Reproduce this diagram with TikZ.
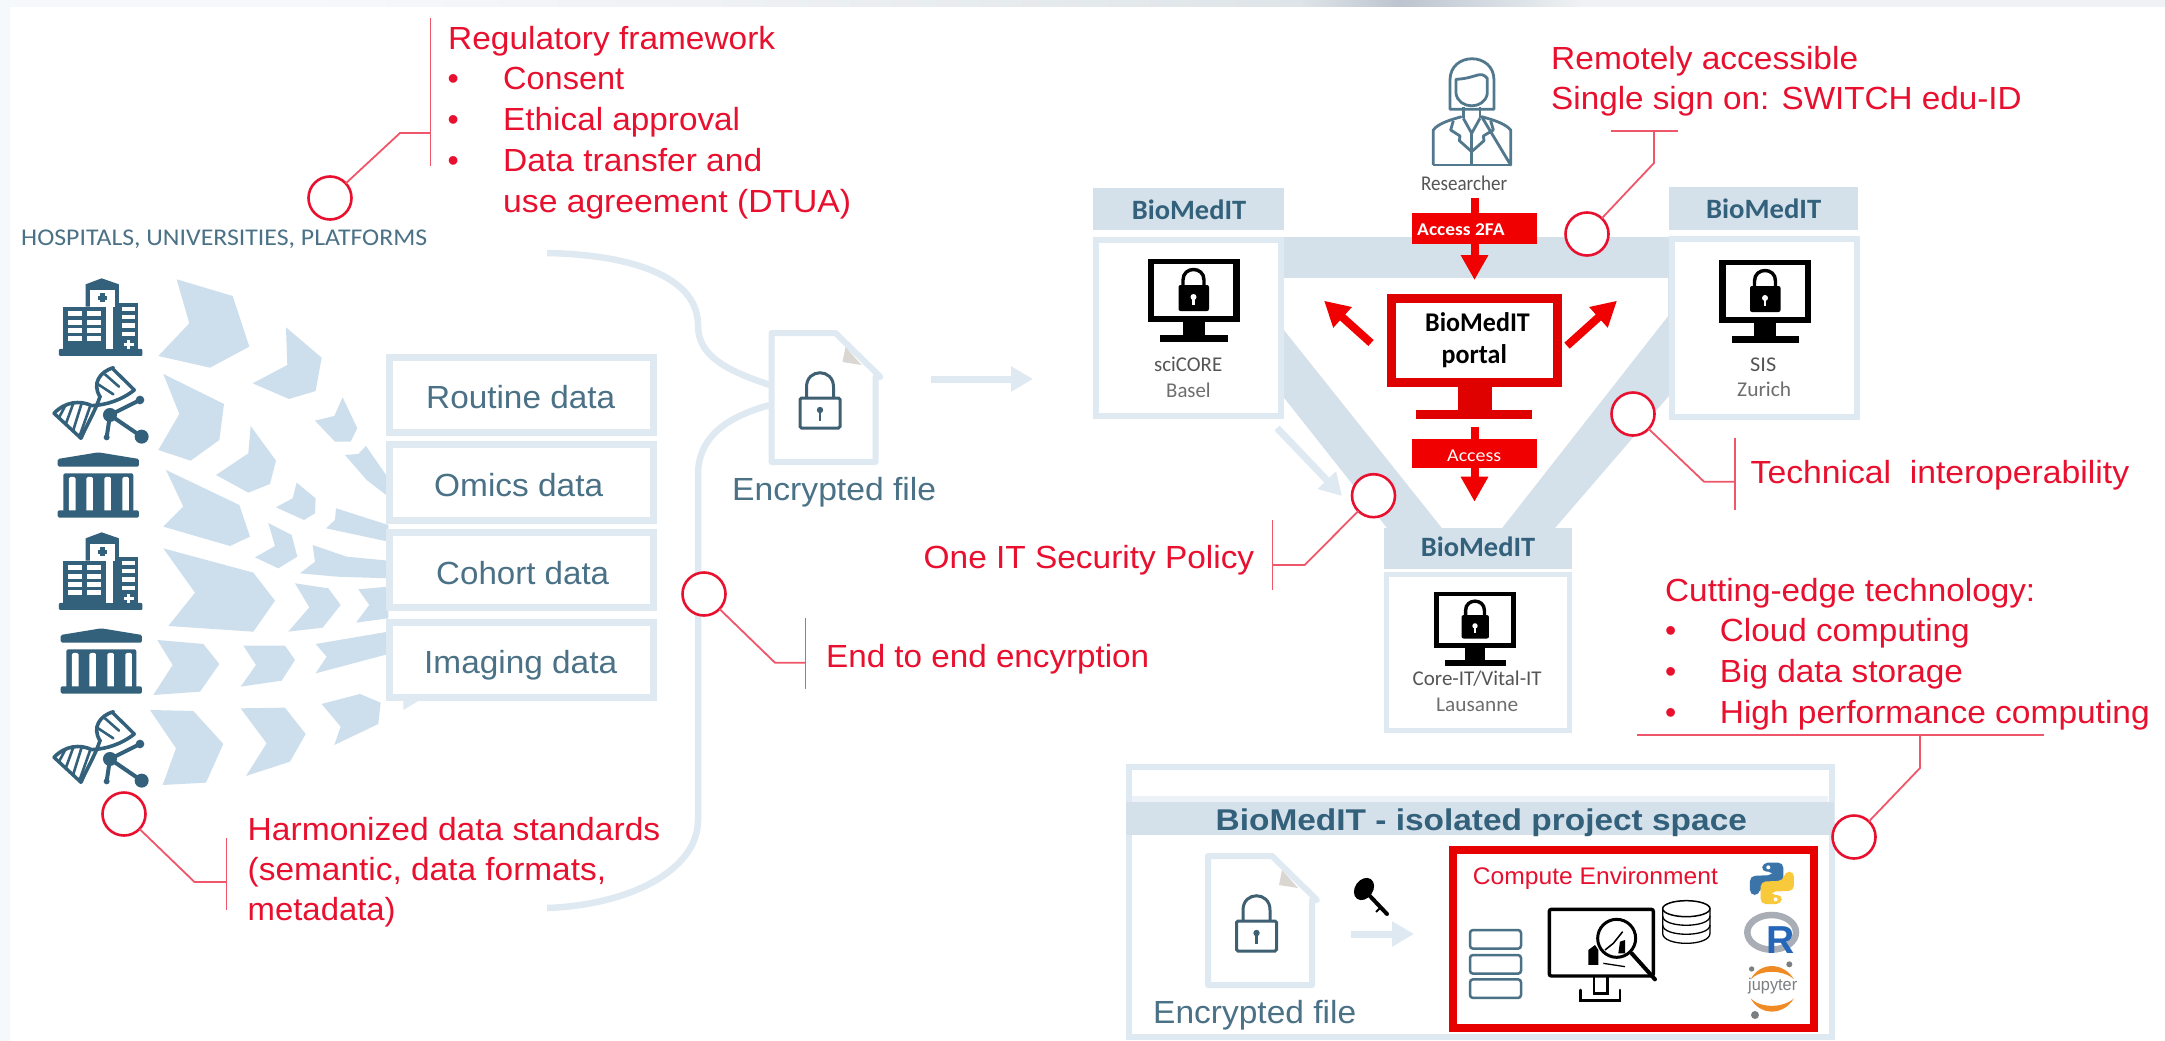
\documentclass[tikz,border=0pt]{standalone}
\usepackage{fontspec}
\usepackage{graphicx}
\setmainfont{Liberation Sans}
\newfontfamily\carl{Carlito}
\usetikzlibrary{arrows.meta}
\definecolor{redt}{HTML}{E8102E}
\definecolor{leadc}{HTML}{F0566A}
\definecolor{teal}{HTML}{33607A}
\definecolor{tealt}{HTML}{4A7186}
\definecolor{chev}{HTML}{CDDFEC}
\definecolor{bandc}{HTML}{D4E0EA}
\definecolor{lightb}{HTML}{DFE9F2}
\definecolor{pred}{HTML}{F00000}
\definecolor{gtxt}{HTML}{555555}
\definecolor{HTMLgray}{HTML}{DAD6D2}
\definecolor{EdgeA}{HTML}{EEF2F4}
\definecolor{EdgeB}{HTML}{DFE4E8}
\definecolor{EdgeC}{HTML}{BDC4CF}
\definecolor{EdgeL}{HTML}{F6F9FB}
\definecolor{PyBlue}{HTML}{3B74A8}
\definecolor{PyYellow}{HTML}{F8C93A}
\definecolor{RingG}{HTML}{A9ADB5}
\definecolor{JupO}{HTML}{F08A24}
\definecolor{JupG}{HTML}{7C7F82}
\definecolor{RBlue}{HTML}{2566B8}
\newcommand{\fitw}[2]{\resizebox{#1pt}{\height}{#2}}
\tikzset{
 redtxt/.style={anchor=base west,inner sep=0pt,text=redt,font=\fontsize{32}{38}\selectfont},
 tealtxt/.style={anchor=base west,inner sep=0pt,text=tealt,font=\fontsize{32}{38}\selectfont},
 hdrtxt/.style={anchor=base west,inner sep=0pt,text=teal,font=\carl\bfseries\fontsize{28}{32}\selectfont},
 gray1/.style={anchor=base west,inner sep=0pt,text=gtxt,font=\carl\fontsize{21}{25}\selectfont},
 whitetxt/.style={anchor=base west,inner sep=0pt,text=white,font=\carl\bfseries\fontsize{18}{22}\selectfont},
 portaltxt/.style={anchor=base west,inner sep=0pt,text=black,font=\carl\bfseries\fontsize{27}{32}\selectfont},
 ring/.style={circle,draw=redt,line width=2.6pt,fill=white,minimum size=43pt,inner sep=0pt,outer sep=0pt},
 leader/.style={draw=leadc,line width=1.8pt},
 chevron/.style={fill=chev},
 databox/.style={rectangle,draw=lightb,fill=white,line width=7pt,inner sep=0pt,outer sep=0pt},
 hdrbox/.style={rectangle,fill=bandc,inner sep=0pt,outer sep=0pt},
 accbox/.style={rectangle,fill=pred,inner sep=0pt,outer sep=0pt,minimum width=125.5pt},
 lightarr/.style={draw=lightb,line width=7pt,-{Triangle[length=22pt,width=24pt]}},
 redarr/.style={draw=pred,line width=8pt,-{Triangle[length=25pt,width=26pt]}},
 hospital/.pic={\begin{scope}[x=.3333pt,y=-.3333pt]
   \fill[teal,rounded corners=1pt] (42,222) rectangle (292,243);
   \fill[teal] (122,28)--(170,10)--(222,28)--(222,95)--(122,95)--cycle;
   \fill[teal] (55,95) rectangle (182,222);
   \fill[teal] (203,85) rectangle (280,222);
   \fill[white] (135,45) rectangle (210,95);
   \fill[teal] (165,55) rectangle (180,82);\fill[teal] (158,62) rectangle (187,75);
   \fill[white] (182,95) rectangle (203,222);
   \foreach \yy in {108,135,160,183}{\fill[white] (70,\yy) rectangle (112,\yy+14);\fill[white] (125,\yy) rectangle (167,\yy+14);}
   \foreach \yy in {95,120,145,170}{\fill[white] (230,\yy) rectangle (270,\yy+13);}
   \fill[white] (245,196) rectangle (256,222);\fill[white] (236,203) rectangle (266,214);
 \end{scope}},
 dnaicon/.pic={\begin{scope}[x=.3333pt,y=-.3333pt,line cap=round]
   \draw[teal,line width=3.6pt] (205,278) .. controls (165,290) and (140,325) .. (165,365) .. controls (150,410) and (125,450) .. (108,490);
   \draw[teal,line width=3.6pt] (27,415) .. controls (60,380) and (105,375) .. (140,392) .. controls (185,390) and (230,375) .. (268,345);
   \draw[teal,line width=3.4pt] (205,283) -- (268,345);
   \draw[teal,line width=3.4pt] (27,415) -- (108,490);
   \foreach \a/\b/\c/\d in {180/298/222/335, 155/325/205/358, 62/390/42/428, 85/385/62/448, 110/385/85/465, 135/395/105/480}{\draw[teal,line width=2.6pt] (\a,\b)--(\c,\d);}
   \draw[teal,line width=4pt] (195,420)--(285,375) (195,420)--(290,485) (195,420)--(185,487);
   \fill[teal] (195,420) circle[radius=21];\fill[teal] (285,375) circle[radius=13];
   \fill[teal] (290,485) circle[radius=21];\fill[teal] (185,487) circle[radius=9];
 \end{scope}},
 bankicon/.pic={\begin{scope}[x=.3333pt,y=-.3333pt]
   \fill[teal,rounded corners=1.5pt] (38,552)--(160,532)--(282,552)--(282,575)--(38,575)--cycle;
   \fill[teal,rounded corners=2pt] (55,595) rectangle (265,712);
   \foreach \xx in {72,124,178,232}{\fill[white,rounded corners=1.5pt] (\xx,606) rectangle (\xx+20,712);}
   \fill[teal,rounded corners=1.5pt] (38,706) rectangle (282,728);
 \end{scope}},
 docfile/.pic={
   \draw[lightb,fill=white,line width=6pt,line join=round] (3,3)--(67,3)--(112,47)--(107,47)--(107,132)--(3,132)--cycle;
   \fill[HTMLgray] (77,17)--(93,35)--(74,32)--cycle;
   \draw[tealt!85!black,line width=3pt,fill=white,rounded corners=1.5pt] (31.5,68) rectangle (71.5,98);
   \draw[tealt!85!black,line width=3pt] (38,68)--(38,57) .. controls (38,38) and (65,38) .. (65,57)--(65,68);
   \fill[tealt!85!black] (51.5,80) circle[radius=3.2];
   \fill[tealt!85!black] (50.3,80) rectangle (52.7,91);
 },
 lockmon/.pic={
   \fill[black] (-46,0) rectangle (46,63);
   \fill[white] (-39.5,5) rectangle (39.5,57);
   \fill[black] (-11,63) rectangle (11,76);
   \fill[black] (-33.5,76) rectangle (34,83);
   \fill[black,rounded corners=2pt] (-15,26) rectangle (15.5,52);
   \draw[black,line width=3.4pt] (-10.5,26)--(-10.5,21) .. controls (-10.5,7) and (10.5,7) .. (10.5,21)--(10.5,26);
   \fill[white] (0,38) circle[radius=3];\fill[white] (-1.3,38) rectangle (1.3,46);
 }
}
\begin{document}
\begin{tikzpicture}[x=1pt,y=-1pt]
\useasboundingbox (0,0) rectangle (2165,1041);
% background edges
\fill[white] (0,0) rectangle (2165,1041);
\shade[left color=EdgeL,right color=EdgeA] (300,0) rectangle (700,7);
\shade[left color=EdgeA,right color=EdgeB] (700,0) rectangle (1300,7);
\shade[left color=EdgeB,right color=EdgeC] (1300,0) rectangle (1400,7);
\shade[left color=EdgeC,right color=EdgeA] (1400,0) rectangle (1580,7);
\fill[EdgeA] (1580,0) rectangle (2165,7);
\fill[EdgeL] (0,0) rectangle (300,7);
\fill[EdgeL] (0,0) rectangle (10,1041);

% chevrons, upper
\begin{scope}[shift={(150,270)},x=.3333pt,y=-.3333pt]
\fill[chevron] (80,28)--(248,78)--(298,230)--(180,293)--(25,258)--(118,160)--cycle;
\fill[chevron] (408,172)--(515,263)--(497,363)--(417,387)--(308,340)--(412,285)--cycle;
\fill[chevron] (40,312)--(222,402)--(208,510)--(122,572)--(25,540)--(88,432)--cycle;
\fill[chevron] (302,468)--(378,572)--(360,642)--(295,668)--(198,615)--(295,550)--cycle;
\fill[chevron] (578,382)--(622,475)--(602,515)--(555,515)--(495,452)--(553,438)--cycle;
\fill[chevron] (648,528)--(715,625)--(715,680)--(650,630)--(585,555)--(625,552)--cycle;
\fill[chevron] (48,600)--(268,705)--(300,800)--(240,828)--(40,770)--(100,710)--cycle;
\fill[chevron] (440,638)--(497,685)--(495,730)--(462,750)--(378,712)--(428,685)--cycle;
\fill[chevron] (558,715)--(715,765)--(715,815)--(528,775)--(555,750)--cycle;
\end{scope}
% chevrons, lower
\begin{scope}[shift={(150,530)},x=.3333pt,y=-.3333pt]
\fill[chevron] (355,-21)--(425,15)--(442,80)--(385,115)--(315,82)--(375,48)--cycle;
\fill[chevron] (488,45)--(590,80)--(715,92)--(715,145)--(560,140)--(450,130)--(495,95)--cycle;
\fill[chevron] (40,55)--(310,128)--(375,212)--(310,305)--(55,288)--(135,188)--cycle;
\fill[chevron] (435,160)--(535,175)--(572,225)--(518,293)--(415,305)--(478,232)--cycle;
\fill[chevron] (625,178)--(715,170)--(715,265)--(618,278)--(658,225)--cycle;
\fill[chevron] (22,330)--(160,342)--(208,402)--(150,485)--(10,495)--(68,405)--cycle;
\fill[chevron] (280,347)--(405,347)--(435,390)--(395,452)--(272,470)--(318,405)--cycle;
\fill[chevron] (497,342)--(715,305)--(715,372)--(497,430)--(530,380)--cycle;
\fill[chevron] (0,540)--(130,543)--(220,642)--(168,758)--(38,765)--(78,655)--cycle;
\fill[chevron] (272,535)--(405,533)--(467,612)--(420,695)--(288,738)--(350,640)--cycle;
\fill[chevron] (515,522)--(630,492)--(692,518)--(685,582)--(553,645)--(572,590)--cycle;
\fill[lightb] (760,510)--(810,510)--(760,540)--cycle;
\end{scope}

% icons
\pic at (45,275) {hospital};
\pic at (45,275) {dnaicon};
\pic at (45,275) {bankicon};
\pic at (45,529) {hospital};
\pic at (48,451) {bankicon};
\pic at (45,619) {dnaicon};

% data boxes
\node[databox,minimum width=264.5pt,minimum height=75pt] (routine) at (521.7,395) {};
\node[databox,minimum width=264.5pt,minimum height=75.5pt] (omics) at (521.7,482.7) {};
\node[databox,minimum width=264.5pt,minimum height=75pt] (cohort) at (521.7,570) {};
\node[databox,minimum width=264.5pt,minimum height=75pt] (imaging) at (521.7,659.7) {};
\node[tealtxt] (troutine) at (426,408) {\fitw{189}{Routine data}};
\node[tealtxt] (tomics) at (434,496) {\fitw{169}{Omics data}};
\node[tealtxt] (tcohort) at (436,584) {\fitw{173}{Cohort data}};
\node[tealtxt] (timaging) at (424,673) {\fitw{193}{Imaging data}};

% big bracket
\draw[lightb,line width=6.5pt] (547,253) .. controls (640,255) and (698,280) .. (698,325) .. controls (698,352) and (718,368) .. (770,385);
\draw[lightb,line width=6.5pt] (770,405) .. controls (722,418) and (698,440) .. (698,475) -- (698,820) .. controls (698,870) and (630,905) .. (547,908);

% encrypted file 1
\pic at (768.5,330) {docfile};
\node[tealtxt] (encr1) at (732,500) {\fitw{204}{Encrypted file}};
\coordinate (a1s) at (931,379);
\coordinate (a1e) at (1033,379);
\draw[lightarr] (a1s) -- (a1e);

% hospitals label
\node[anchor=base west,inner sep=0pt,text=tealt,font=\carl\fontsize{24}{28}\selectfont] (hosp) at (21,245) {\fitw{406}{HOSPITALS, UNIVERSITIES, PLATFORMS}};

% network band
\fill[bandc] (1270,237)--(1680,237)--(1680,383)--(1555,528)--(1387,528)--(1270,380)--cycle;
\fill[white] (1284,278)--(1668,278)--(1668,316)--(1502,528)--(1442,528)--(1284,330)--cycle;
% small light arrow
\coordinate (a2s) at (1277,428);
\coordinate (a2e) at (1342,496);
\draw[lightarr] (a2s) -- (a2e);

% BioMedIT boxes
\node[databox,line width=6pt,minimum width=185pt,minimum height=176pt] (bbasel) at (1188,328) {};
\node[hdrbox,minimum width=190.5pt,minimum height=42pt] (hbasel) at (1188.7,209) {};
\node[hdrtxt] (lbasel) at (1131.6,219) {\fitw{114.4}{BioMedIT}};
\pic at (1193.5,259) {lockmon};
\node[gray1] (t1a) at (1154,371.7) {\fitw{68}{sciCORE}};
\node[gray1,text=gtxt!85] (t1b) at (1166,397) {\fitw{44.5}{Basel}};

\node[databox,line width=6pt,minimum width=185pt,minimum height=178pt] (bzur) at (1764.3,327.5) {};
\node[hdrbox,minimum width=189.4pt,minimum height=43pt] (hzur) at (1763.3,208.5) {};
\node[hdrtxt] (lzur) at (1705.8,218) {\fitw{115.2}{BioMedIT}};
\pic at (1765,260) {lockmon};
\node[gray1] (t2a) at (1750,371) {\fitw{26}{SIS}};
\node[gray1,text=gtxt!85] (t2b) at (1737,396.7) {\fitw{54}{Zurich}};

\node[databox,line width=5.5pt,minimum width=183pt,minimum height=156pt] (blau) at (1478,652.5) {};
\node[hdrbox,minimum width=188pt,minimum height=41pt] (hlau) at (1478,548.5) {};
\node[hdrtxt] (llau) at (1420.6,556) {\fitw{114.4}{BioMedIT}};
\pic[scale=.9] at (1475,591.7) {lockmon};
\node[gray1] (t3a) at (1412.5,685) {\fitw{129}{Core-IT/Vital-IT}};
\node[gray1,text=gtxt!85] (t3b) at (1436,711) {\fitw{82}{Lausanne}};

% researcher
\begin{scope}[shift={(1400,50)},x=.3333pt,y=-.3333pt,draw=teal!85,line width=2.8pt,line join=round]
\draw (150,178)--(150,90) .. controls (150,5) and (282,5) .. (282,90)--(282,178)--cycle;
\draw[fill=white] (168,88)--(168,130) .. controls (175,180) and (255,180) .. (262,130)--(262,85) .. controls (240,60) and (230,85) .. (168,88)--cycle;
\draw (190,170)--(190,205) (240,170)--(240,205);
\draw (100,345)--(100,240) .. controls (115,220) and (150,210) .. (185,200);
\draw (245,200) .. controls (280,210) and (315,220) .. (332,240)--(332,345)--cycle;
\draw (100,345)--(332,345);
\draw (190,205)--(215,250)--(240,205);
\draw (160,212)--(152,240)--(180,258)--(178,272)--(215,305)--(252,272)--(250,258)--(280,240)--(272,212);
\draw (215,250)--(215,345);
\end{scope}
\node[gray1] (tres) at (1421,190) {\fitw{86}{Researcher}};

% red portal
\coordinate (r0) at (1474.5,198);
\coordinate (r1) at (1474.5,280);
\draw[redarr] (r0) -- (r1);
\node[accbox,minimum height=31.5pt] (acc2fa) at (1474.3,228.5) {};
\node[whitetxt] (tacc2fa) at (1417,235) {\fitw{87.4}{Access 2FA}};
\fill[pred!93!black] (1457.6,383) rectangle (1491.5,412);
\fill[pred!93!black] (1416,410) rectangle (1532,419.3);
\node[rectangle,draw=pred!93!black,fill=white,line width=8.4pt,minimum width=166pt,minimum height=84pt,inner sep=0pt,outer sep=0pt] (portal) at (1474.5,340.3) {};
\node[portaltxt] (tp1) at (1425,331.7) {\fitw{104.6}{BioMedIT}};
\node[portaltxt] (tp2) at (1441.5,363) {\fitw{65.2}{portal}};
\coordinate (l0) at (1371,343);
\coordinate (l1) at (1324,300.7);
\coordinate (rr0) at (1567,345.7);
\coordinate (rr1) at (1617,300.7);
\draw[redarr] (l0) -- (l1);
\draw[redarr] (rr0) -- (rr1);
\coordinate (d0) at (1474.5,427);
\coordinate (d1) at (1474.5,501.7);
\draw[redarr] (d0) -- (d1);
\node[accbox,minimum height=29pt] (acc) at (1474.3,453.5) {};
\node[whitetxt,font=\carl\fontsize{18}{22}\selectfont] (tacc) at (1447,461) {\fitw{54}{Access}};

% project space
\node[databox,line width=6.5pt,minimum width=702.7pt,minimum height=270pt] (proj) at (1480.4,902) {};
\node[hdrbox,minimum width=708pt,minimum height=33.5pt] (hproj) at (1480.4,818.5) {};
\fill[lightb!60] (1132,796) rectangle (1828,802);
\node[anchor=base west,inner sep=0pt,text=teal,font=\bfseries\fontsize{30}{34}\selectfont] (tproj) at (1215.5,830) {\fitw{531.2}{BioMedIT - isolated project space}};
\pic at (1205,853) {docfile};
\node[tealtxt] (encr2) at (1153,1023) {\fitw{203}{Encrypted file}};
% key
\draw[black,line width=4pt,line cap=round] (1368,894)--(1387,914);
\draw[black,line width=2pt] (1380,908)--(1376,912);
\fill[black,rotate around={-35:(1364,889)}] (1364,889) ellipse[x radius=9,y radius=12];
\coordinate (a3s) at (1351,934);
\coordinate (a3e) at (1414,934);
\draw[lightarr] (a3s) -- (a3e);

% compute environment
\node[rectangle,draw=pred!96!black,fill=white,line width=8pt,minimum width=361pt,minimum height=178pt,inner sep=0pt,outer sep=0pt] (comp) at (1633.5,939) {};
\node[anchor=base west,inner sep=0pt,text=redt,font=\fontsize{24}{28}\selectfont] (tcomp) at (1472.7,884) {\fitw{245}{Compute Environment}};
\begin{scope}[shift={(1440,850)},x=.3333pt,y=-.3333pt]
\foreach \yy in {240,315,388}{\draw[tealt,line width=2.5pt,rounded corners=3pt] (90,\yy) rectangle (243,\yy+56);}
% monitor
\draw[black,line width=3.4pt,rounded corners=2pt] (328,178) rectangle (640,378);
\draw[black,line width=2.6pt] (462,378)--(462,430)--(503,430)--(503,378);
\draw[black,line width=2.6pt,line cap=round] (422,420)--(422,452)--(540,452)--(540,420);
\draw[black,line width=3pt,fill=white] (530,265) circle[radius=57];
\draw[black,line width=4pt,line cap=round] (575,310)--(645,388);
\fill[black] (445,345)--(445,300)--(465,285)--(475,300)--(475,345)--cycle;
\fill[black] (535,310)--(540,275)--(555,270)--(555,310)--cycle;
\draw[black,line width=1.5pt] (495,300)--(520,280)--(548,245);
\draw[black,line width=1.3pt] (490,340)--(555,350);
% cylinder
\draw[black,line width=1.3pt,fill=white] (668,178)--(668,250) .. controls (668,290) and (810,290) .. (810,250)--(810,178);
\draw[black,line width=1.3pt] (668,225) .. controls (668,262) and (810,262) .. (810,225);
\draw[black,line width=1.3pt] (668,198) .. controls (668,235) and (810,235) .. (810,198);
\draw[black,line width=1.5pt,fill=white] (739,176) ellipse[x radius=71,y radius=24];
% python
\fill[PyBlue,rounded corners=5pt] (968,38)--(1030,38)--(1030,105)--(962,108)--(958,135)--(930,135)--(930,78)--(1000,75)--(1000,65)--(965,65)--cycle;
\fill[PyYellow,rounded corners=5pt] (1024,162)--(962,162)--(962,95)--(1030,92)--(1034,65)--(1062,65)--(1062,122)--(992,125)--(992,135)--(1027,135)--cycle;
\fill[white] (985,52) circle[radius=6];
\fill[white] (1007,148) circle[radius=6];
% R
\draw[RingG,line width=6.5pt] (995,247) ellipse[x radius=73,y radius=52];
% jupyter
\fill[JupO] (932,388) .. controls (960,335) and (1030,335) .. (1062,388) .. controls (1030,358) and (960,358) .. (932,388)--cycle;
\fill[JupO] (932,445) .. controls (960,498) and (1030,498) .. (1062,445) .. controls (1030,475) and (960,475) .. (932,445)--cycle;
\fill[JupG] (935,357) circle[radius=8];
\fill[JupG] (1048,343) circle[radius=9];
\fill[JupG] (945,495) circle[radius=12];
\end{scope}
\node[anchor=base west,inner sep=0pt,text=RBlue,font=\bfseries\fontsize{39}{42}\selectfont] (tR) at (1766,953) {R};
\node[anchor=base west,inner sep=0pt,text=JupG,font=\fontsize{17}{20}\selectfont] (tjup) at (1748,990) {\fitw{49}{jupyter}};

% red callouts
\node[ring] (c1) at (330,198) {};
\coordinate (c1k) at (400,133);
\coordinate (c1v) at (430.5,133);
\coordinate (c1t) at (430.5,18);
\coordinate (c1b) at (430.5,166);
\draw[leader] (c1) -- (c1k) -- (c1v);
\draw[leader] (c1t) -- (c1b);
\node[redtxt] (reg0) at (448,50) {\fitw{327}{Regulatory framework}};
\node[redtxt] (bu1) at (447.5,89) {•};
\node[redtxt] (reg1) at (503,89) {\fitw{121}{Consent}};
\node[redtxt] (bu2) at (447.5,130) {•};
\node[redtxt] (reg2) at (503,130) {\fitw{237}{Ethical approval}};
\node[redtxt] (bu3) at (447.5,171) {•};
\node[redtxt] (reg3) at (503,171) {\fitw{259}{Data transfer and}};
\node[redtxt] (reg4) at (503,212) {\fitw{348}{use agreement (DTUA)}};

\node[ring] (c2) at (704,594) {};
\coordinate (c2k) at (775,662.7);
\coordinate (c2v) at (805.5,662.7);
\coordinate (c2t) at (805.5,618);
\coordinate (c2b) at (805.5,689);
\draw[leader] (c2) -- (c2k) -- (c2v);
\draw[leader] (c2t) -- (c2b);
\node[redtxt] (e2e) at (826,667) {\fitw{323}{End to end encyrption}};

\node[ring] (c3) at (124,814) {};
\coordinate (c3k) at (194.5,882);
\coordinate (c3v) at (226.4,882);
\coordinate (c3t) at (226.4,838);
\coordinate (c3b) at (226.4,910);
\draw[leader] (c3) -- (c3k) -- (c3v);
\draw[leader] (c3t) -- (c3b);
\node[redtxt] (ha1) at (247.5,840) {\fitw{412.6}{Harmonized data standards}};
\node[redtxt] (ha2) at (247.5,880) {\fitw{358.4}{(semantic, data formats,}};
\node[redtxt] (ha3) at (247.5,920) {\fitw{148}{metadata)}};

\node[ring] (c4) at (1587,234) {};
\coordinate (c4k) at (1654,163);
\coordinate (c4v) at (1654,131);
\coordinate (c4l) at (1610.7,131);
\coordinate (c4r) at (1678,131);
\draw[leader] (c4) -- (c4k) -- (c4v);
\draw[leader] (c4l) -- (c4r);
\node[redtxt] (rem1) at (1551,70) {\fitw{307}{Remotely accessible}};
\node[redtxt] (rem2) at (1551,109) {\fitw{470.6}{Single sign on: SWITCH edu-ID}};

\node[ring] (c5) at (1633,414) {};
\coordinate (c5k) at (1704,481.7);
\coordinate (c5v) at (1735,481.7);
\coordinate (c5t) at (1735,437.7);
\coordinate (c5b) at (1735,510);
\draw[leader] (c5) -- (c5k) -- (c5v);
\draw[leader] (c5t) -- (c5b);
\node[redtxt] (tech) at (1750.4,483) {\fitw{378.6}{Technical\ \ interoperability}};

\node[ring] (c6) at (1373.5,495.7) {};
\coordinate (c6k) at (1304.7,565);
\coordinate (c6v) at (1272.5,565);
\coordinate (c6t) at (1272.5,520);
\coordinate (c6b) at (1272.5,590);
\draw[leader] (c6) -- (c6k) -- (c6v);
\draw[leader] (c6t) -- (c6b);
\node[redtxt] (sec) at (923.5,568) {\fitw{330.5}{One IT Security Policy}};

\node[ring] (c7) at (1854,837) {};
\coordinate (c7k) at (1920,768);
\coordinate (c7v) at (1920,735);
\coordinate (c7l) at (1636.7,735);
\coordinate (c7r) at (2044.3,735);
\draw[leader] (c7) -- (c7k) -- (c7v);
\draw[leader,line width=2.6pt] (c7l) -- (c7r);
\node[redtxt] (cut0) at (1665,601.7) {\fitw{370}{Cutting-edge technology:}};
\node[redtxt] (bc1) at (1665,641.7) {•};
\node[redtxt] (cut1) at (1719.6,641.7) {\fitw{250}{Cloud computing}};
\node[redtxt] (bc2) at (1665,682) {•};
\node[redtxt] (cut2) at (1719.6,682) {\fitw{243.2}{Big data storage}};
\node[redtxt] (bc3) at (1665,723) {•};
\node[redtxt] (cut3) at (1719.6,723) {\fitw{430}{High performance computing}};
\end{tikzpicture}
\end{document}
